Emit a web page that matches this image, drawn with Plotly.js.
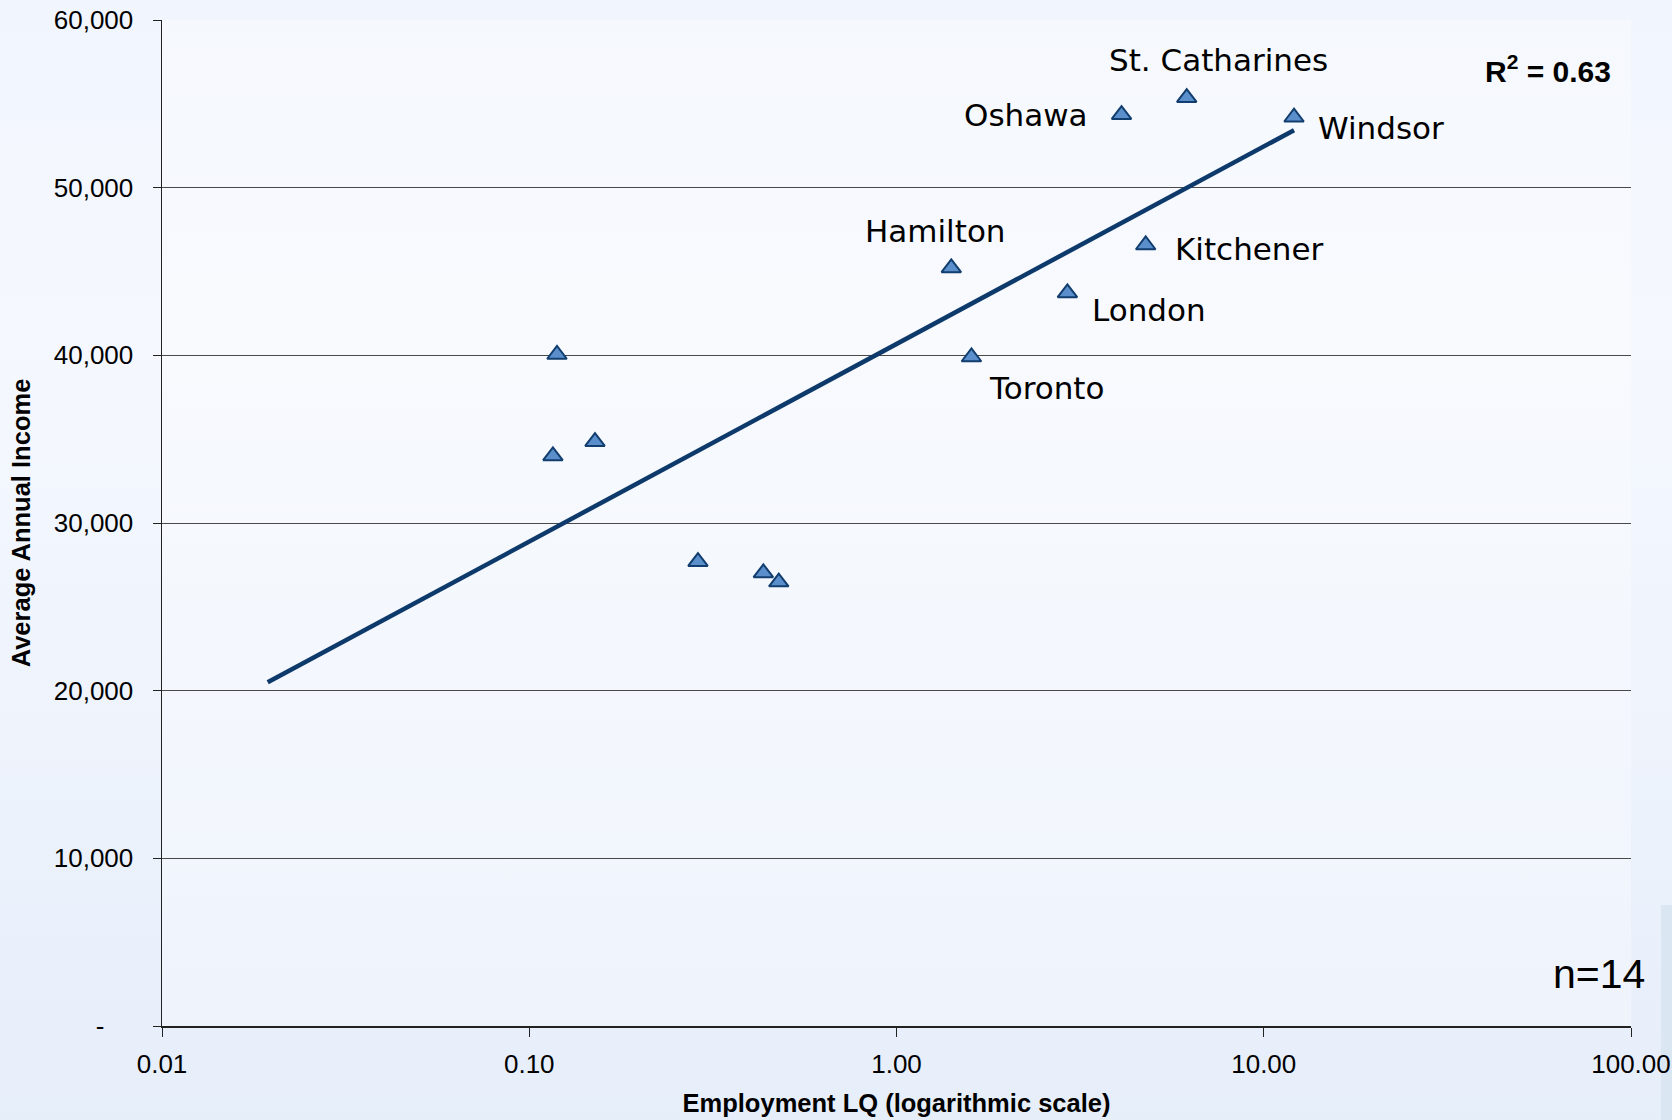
<!DOCTYPE html>
<html>
<head>
<meta charset="utf-8">
<script src="https://cdn.plot.ly/plotly-3.0.1.min.js"></script>
<style>
  html, body { margin: 0; padding: 0; }
  body {
    width: 1672px; height: 1120px; overflow: hidden;
    background: linear-gradient(180deg, #f1f5fd 0%, #f5f8fe 30%, #eef3fc 65%, #e6eefa 100%);
    position: relative;
  }
  #chart { width: 1672px; height: 1120px; position: absolute; left: 0; top: 0; }
  #edge { position: absolute; left: 1661px; top: 905px; width: 11px; height: 215px; background: #dbe6f3; }
</style>
</head>
<body>
<div id="edge"></div>
<div id="chart"></div>
<script>
// ---- data ----
const cityNames = ["St. Catharines", "Oshawa", "Windsor", "Hamilton", "Kitchener", "London", "Toronto", "", "", "", "", "", ""];
const employmentLQ = [6.17, 4.10, 12.09, 1.41, 4.77, 2.92, 1.60, 0.119, 0.116, 0.151, 0.288, 0.434, 0.478];
const avgIncome = [55370, 54350, 54200, 45210, 46580, 43720, 39900, 40050, 34000, 34850, 27690, 27020, 26480];

const trendX = [0.0194, 12.09];
const trendY = [20500, 53430];

const yTickVals = [0, 10000, 20000, 30000, 40000, 50000, 60000];
const yTickText = ["-\u00a0\u00a0\u00a0\u00a0", "10,000", "20,000", "30,000", "40,000", "50,000", "60,000"];
const xTickVals = [0.01, 0.1, 1, 10, 100];
const xTickText = ["0.01", "0.10", "1.00", "10.00", "100.00"];

const rSquaredText = "R<sup>2</sup> = 0.63";
const sampleText = "n=14";

// ---- label placement (styles) ----
const labelAnchor = ["center", "right", "left", "center", "left", "left", "left"];
const labelShiftX = [32, -32, 22, -16, 27, 23, 16];
const labelShiftY = [38, 0, -11, 37, -4, -17, -31];

const tickFont = { family: "Liberation Sans, Arial, sans-serif", size: 26, color: "#000" };

const annotations = [];
cityNames.forEach((name, i) => {
  if (!name) return;
  annotations.push({
    x: Math.log10(employmentLQ[i]), y: avgIncome[i], xref: "x", yref: "y",
    text: name, showarrow: false,
    xanchor: labelAnchor[i], yanchor: "middle",
    xshift: labelShiftX[i], yshift: labelShiftY[i],
    font: { family: "DejaVu Sans, Verdana, sans-serif", size: 31, color: "#000" }
  });
});
annotations.push({
  x: 0.9877, y: 0.9515, xref: "paper", yref: "paper",
  text: "<b>" + rSquaredText + "</b>", showarrow: false,
  xanchor: "right", yanchor: "middle",
  font: { family: "Liberation Sans, Arial, sans-serif", size: 30, color: "#000" }
});
annotations.push({
  x: 1.0109, y: 0.0517, xref: "paper", yref: "paper",
  text: sampleText, showarrow: false,
  xanchor: "right", yanchor: "middle",
  font: { family: "Liberation Sans, Arial, sans-serif", size: 41, color: "#000" }
});

const traces = [
  {
    x: trendX, y: trendY, type: "scatter", mode: "lines",
    line: { color: "#0d3a6b", width: 4.5 },
    hoverinfo: "skip", showlegend: false
  },
  {
    x: employmentLQ, y: avgIncome, type: "scatter", mode: "markers",
    marker: { symbol: "triangle-up", size: 17, color: "#5b8fcb", line: { color: "#123e6f", width: 2 } },
    showlegend: false
  }
];

const layout = {
  width: 1672, height: 1120,
  margin: { l: 162, r: 41, t: 20, b: 94, pad: 0 },
  paper_bgcolor: "rgba(0,0,0,0)",
  plot_bgcolor: "rgba(255,255,255,0.3)",
  showlegend: false,
  xaxis: {
    type: "log", range: [-2, 2], autorange: false,
    tickmode: "array", tickvals: xTickVals, ticktext: xTickText,
    ticks: "outside", ticklen: 9, tickwidth: 1, tickcolor: "#222",
    showline: true, linecolor: "#222", linewidth: 1.5,
    showgrid: false, zeroline: false,
    tickfont: tickFont, ticklabelstandoff: 5,
    title: { text: "<b>Employment LQ (logarithmic scale)</b>", font: { family: "Liberation Sans, Arial, sans-serif", size: 25.5, color: "#000" }, standoff: 16 },
    automargin: false
  },
  yaxis: {
    range: [0, 60000], autorange: false,
    tickmode: "array", tickvals: yTickVals, ticktext: yTickText,
    ticks: "outside", ticklen: 8, tickwidth: 1, tickcolor: "#222",
    showline: true, linecolor: "#222", linewidth: 1.5,
    showgrid: true, gridcolor: "#4a4a4a", gridwidth: 1,
    zeroline: false,
    tickfont: tickFont, ticklabelstandoff: 14,
    title: { text: "<b>Average Annual Income</b>", font: { family: "Liberation Sans, Arial, sans-serif", size: 25.5, color: "#000" }, standoff: 16 },
    automargin: false
  },
  annotations: annotations
};

Plotly.newPlot("chart", traces, layout, { staticPlot: true, displayModeBar: false });
</script>
</body>
</html>
